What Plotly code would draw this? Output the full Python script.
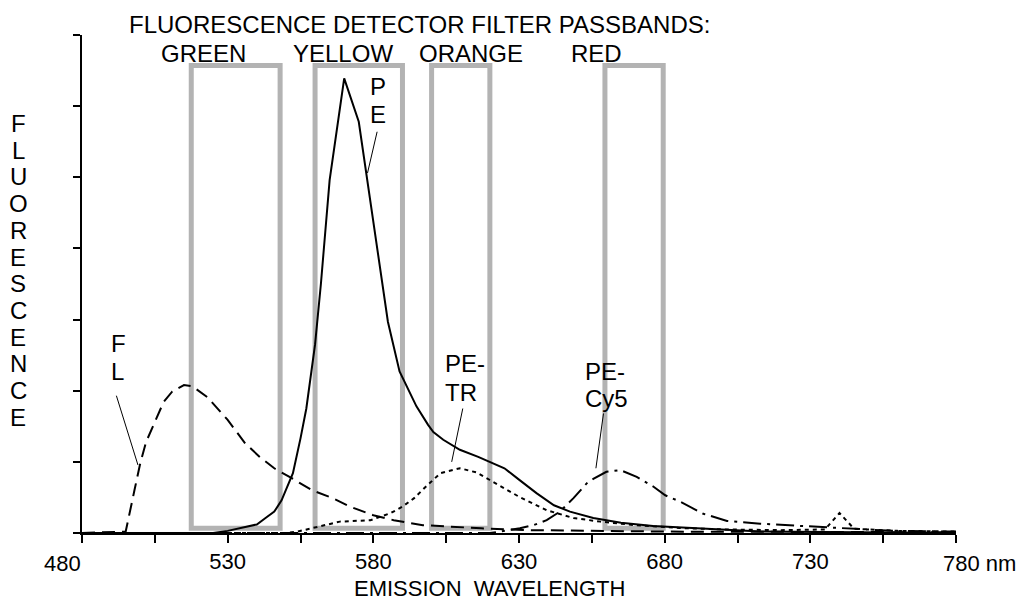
import plotly.graph_objects as go

# ---------------- data ----------------
FL_nm = [480, 495, 498, 500, 502, 505, 508, 511, 515, 518, 523, 530, 536, 541, 546, 552,
         559, 566, 572, 580, 587, 597, 617, 634, 680, 780]
FL_val = [0, 0.02, 0.60, 0.98, 1.28, 1.57, 1.84, 1.99, 2.08, 2.06, 1.91, 1.59, 1.26, 1.07,
          0.91, 0.77, 0.60, 0.49, 0.37, 0.25, 0.18, 0.11, 0.066, 0.04, 0.02, 0.01]

PE_nm = [480, 525, 530, 535, 540, 543, 546, 548.5, 550.6, 552.4, 555, 557, 560, 562, 565,
         570, 575, 585, 589, 591.4, 594.8, 598.8, 600.6, 604, 609.7, 616, 620, 625, 630,
         636, 642, 647.5, 655.5, 665, 676, 690, 701.5, 713, 780]
PE_val = [0, 0, 0.03, 0.08, 0.12, 0.21, 0.30, 0.46, 0.67, 0.84, 1.33, 1.75, 2.65, 3.5, 4.96,
          6.39, 5.78, 2.97, 2.27, 2.06, 1.78, 1.52, 1.42, 1.31, 1.17, 1.07, 1.00, 0.91, 0.75,
          0.56, 0.39, 0.30, 0.21, 0.145, 0.10, 0.07, 0.04, 0.02, 0.0]

PETR_nm = [480, 550, 554, 559, 568.5, 579, 586, 590, 594, 598, 603, 609.7, 615.5, 620, 624,
           630, 639.5, 648.7, 658, 670, 685, 700, 720, 735, 740, 745, 760, 780]
PETR_val = [0, 0, 0.02, 0.066, 0.16, 0.18, 0.28, 0.37, 0.49, 0.65, 0.84, 0.91, 0.85, 0.745,
            0.65, 0.51, 0.32, 0.21, 0.16, 0.11, 0.07, 0.05, 0.04, 0.05, 0.28, 0.06, 0.03, 0.02]

PECY5_nm = [480, 620, 623.5, 630.3, 635, 639.5, 644, 648.7, 653.3, 655.5, 660, 664.7, 670.4,
            676.2, 680.2, 685.3, 693.3, 701.4, 712.8, 726.6, 732.3, 747, 758.5, 780]
PECY5_val = [0, 0, 0.02, 0.066, 0.11, 0.18, 0.30, 0.49, 0.70, 0.76, 0.86, 0.885, 0.79, 0.65,
             0.53, 0.44, 0.27, 0.17, 0.13, 0.10, 0.08, 0.05, 0.03, 0.02]

# filter passbands (nm)
FILTER_NAMES = ["GREEN", "YELLOW", "ORANGE", "RED"]
FILTER_LO = [517.5, 560, 600, 659.5]
FILTER_HI = [548, 590, 620, 679.5]

X_TICKS = [480, 505, 530, 555, 580, 605, 630, 655, 680, 705, 730, 755, 780]
X_TICK_TEXT = ["", "", "530", "", "580", "", "630", "", "680", "", "730", "", ""]
Y_TICKS = [0, 1, 2, 3, 4, 5, 6, 7]

# ---------------- layout constants ----------------
W, H = 1024, 600
ML, MR, MT, MB = 82, 68, 35, 67
PW, PH = W - ML - MR, H - MT - MB
FONT = "Liberation Sans, Arial, Helvetica, sans-serif"
FS = 24
FS_X = 22
GRAY = "rgb(179,179,179)"


def pxx(px):
    return (px - ML) / PW


def pxy(py):
    return (H - MB - py) / PH


fig = go.Figure()

line_w = 2
fig.add_trace(go.Scatter(x=FL_nm, y=FL_val, mode="lines",
                         line=dict(color="black", width=line_w, dash="13px,7px")))
fig.add_trace(go.Scatter(x=PE_nm, y=PE_val, mode="lines",
                         line=dict(color="black", width=line_w)))
fig.add_trace(go.Scatter(x=PETR_nm, y=PETR_val, mode="lines",
                         line=dict(color="black", width=line_w, dash="4px,4px")))
fig.add_trace(go.Scatter(x=PECY5_nm, y=PECY5_val, mode="lines",
                         line=dict(color="black", width=line_w, dash="18px,6px,3px,6px")))

# passband boxes
for lo, hi in zip(FILTER_LO, FILTER_HI):
    fig.add_shape(type="rect", xref="x", yref="y", x0=lo, x1=hi, y0=0.066, y1=6.57,
                  line=dict(color=GRAY, width=5), layer="below")

# leader lines for the curve labels (data coords)
leaders = [((491.8, 1.93), (499.2, 0.956)),
           ((581.3, 5.64), (578.0, 5.06)),
           ((610.7, 1.75), (606.9, 1.00)),
           ((659.0, 1.68), (656.4, 0.91))]
for (x0, y0), (x1, y1) in leaders:
    fig.add_shape(type="line", xref="x", yref="y", x0=x0, y0=y0, x1=x1, y1=y1,
                  line=dict(color="black", width=1))


def txt(text, size=FS, **kw):
    d = dict(text=text, showarrow=False, font=dict(family=FONT, size=size, color="black"))
    d.update(kw)
    return d


ann = []
# curve labels: each line separately (left x in nm, line-centre y in data units)
curve_labels = [("F", 489.2, 2.664), ("L", 489.2, 2.277),
                ("P", 578.0, 6.276), ("E", 578.0, 5.883),
                ("PE-", 603.8, 2.376), ("TR", 603.8, 1.975),
                ("PE-", 651.9, 2.277), ("Cy5", 651.9, 1.891)]
for t, x, y in curve_labels:
    ann.append(txt(t, x=x, y=y, xref="x", yref="y", xanchor="left", yanchor="middle",
                   align="left"))

# title lines
ann.append(txt("FLUORESCENCE DETECTOR FILTER PASSBANDS:", x=pxx(419), y=pxy(25),
               xref="paper", yref="paper", xanchor="center", yanchor="middle"))
for name, cx in zip(FILTER_NAMES, [203.5, 342.5, 471, 596.5]):
    ann.append(txt(name, x=pxx(cx), y=pxy(53), xref="paper", yref="paper",
                   xanchor="center", yanchor="middle"))

# y axis title, stacked letters
for i, ch in enumerate("FLUORESCENCE"):
    ann.append(txt(ch, x=pxx(18), y=pxy(123.5 + 26.7 * i), xref="paper", yref="paper",
                   xanchor="center", yanchor="middle"))

# x axis title and edge tick labels
ann.append(txt("EMISSION  WAVELENGTH", size=FS_X, x=pxx(489.5), y=pxy(588), xref="paper",
               yref="paper", xanchor="center", yanchor="middle"))
ann.append(txt("480", size=FS_X, x=pxx(83), y=pxy(563), xref="paper", yref="paper",
               xanchor="right", yanchor="middle"))
ann.append(txt("780 nm", size=FS_X, x=pxx(941), y=pxy(563), xref="paper", yref="paper",
               xanchor="left", yanchor="middle"))

fig.update_layout(
    width=W, height=H,
    margin=dict(l=ML, r=MR, t=MT, b=MB, pad=0),
    paper_bgcolor="white", plot_bgcolor="white",
    showlegend=False,
    annotations=ann,
    xaxis=dict(range=[480, 780], tickvals=X_TICKS, ticktext=X_TICK_TEXT,
               showgrid=False, zeroline=False, showline=True, linecolor="black",
               linewidth=2, ticks="outside", ticklen=8, tickwidth=2, tickcolor="black",
               tickfont=dict(family=FONT, size=FS_X, color="black"), fixedrange=True),
    yaxis=dict(range=[0, 7], tickvals=Y_TICKS, showticklabels=False,
               showgrid=False, zeroline=False, showline=True, linecolor="black",
               linewidth=2, ticks="outside", ticklen=7, tickwidth=2, tickcolor="black",
               fixedrange=True),
)

fig.write_html("out.html", config={"displayModeBar": False},
               post_script="document.body.style.margin='0';document.body.style.overflow='hidden';")
